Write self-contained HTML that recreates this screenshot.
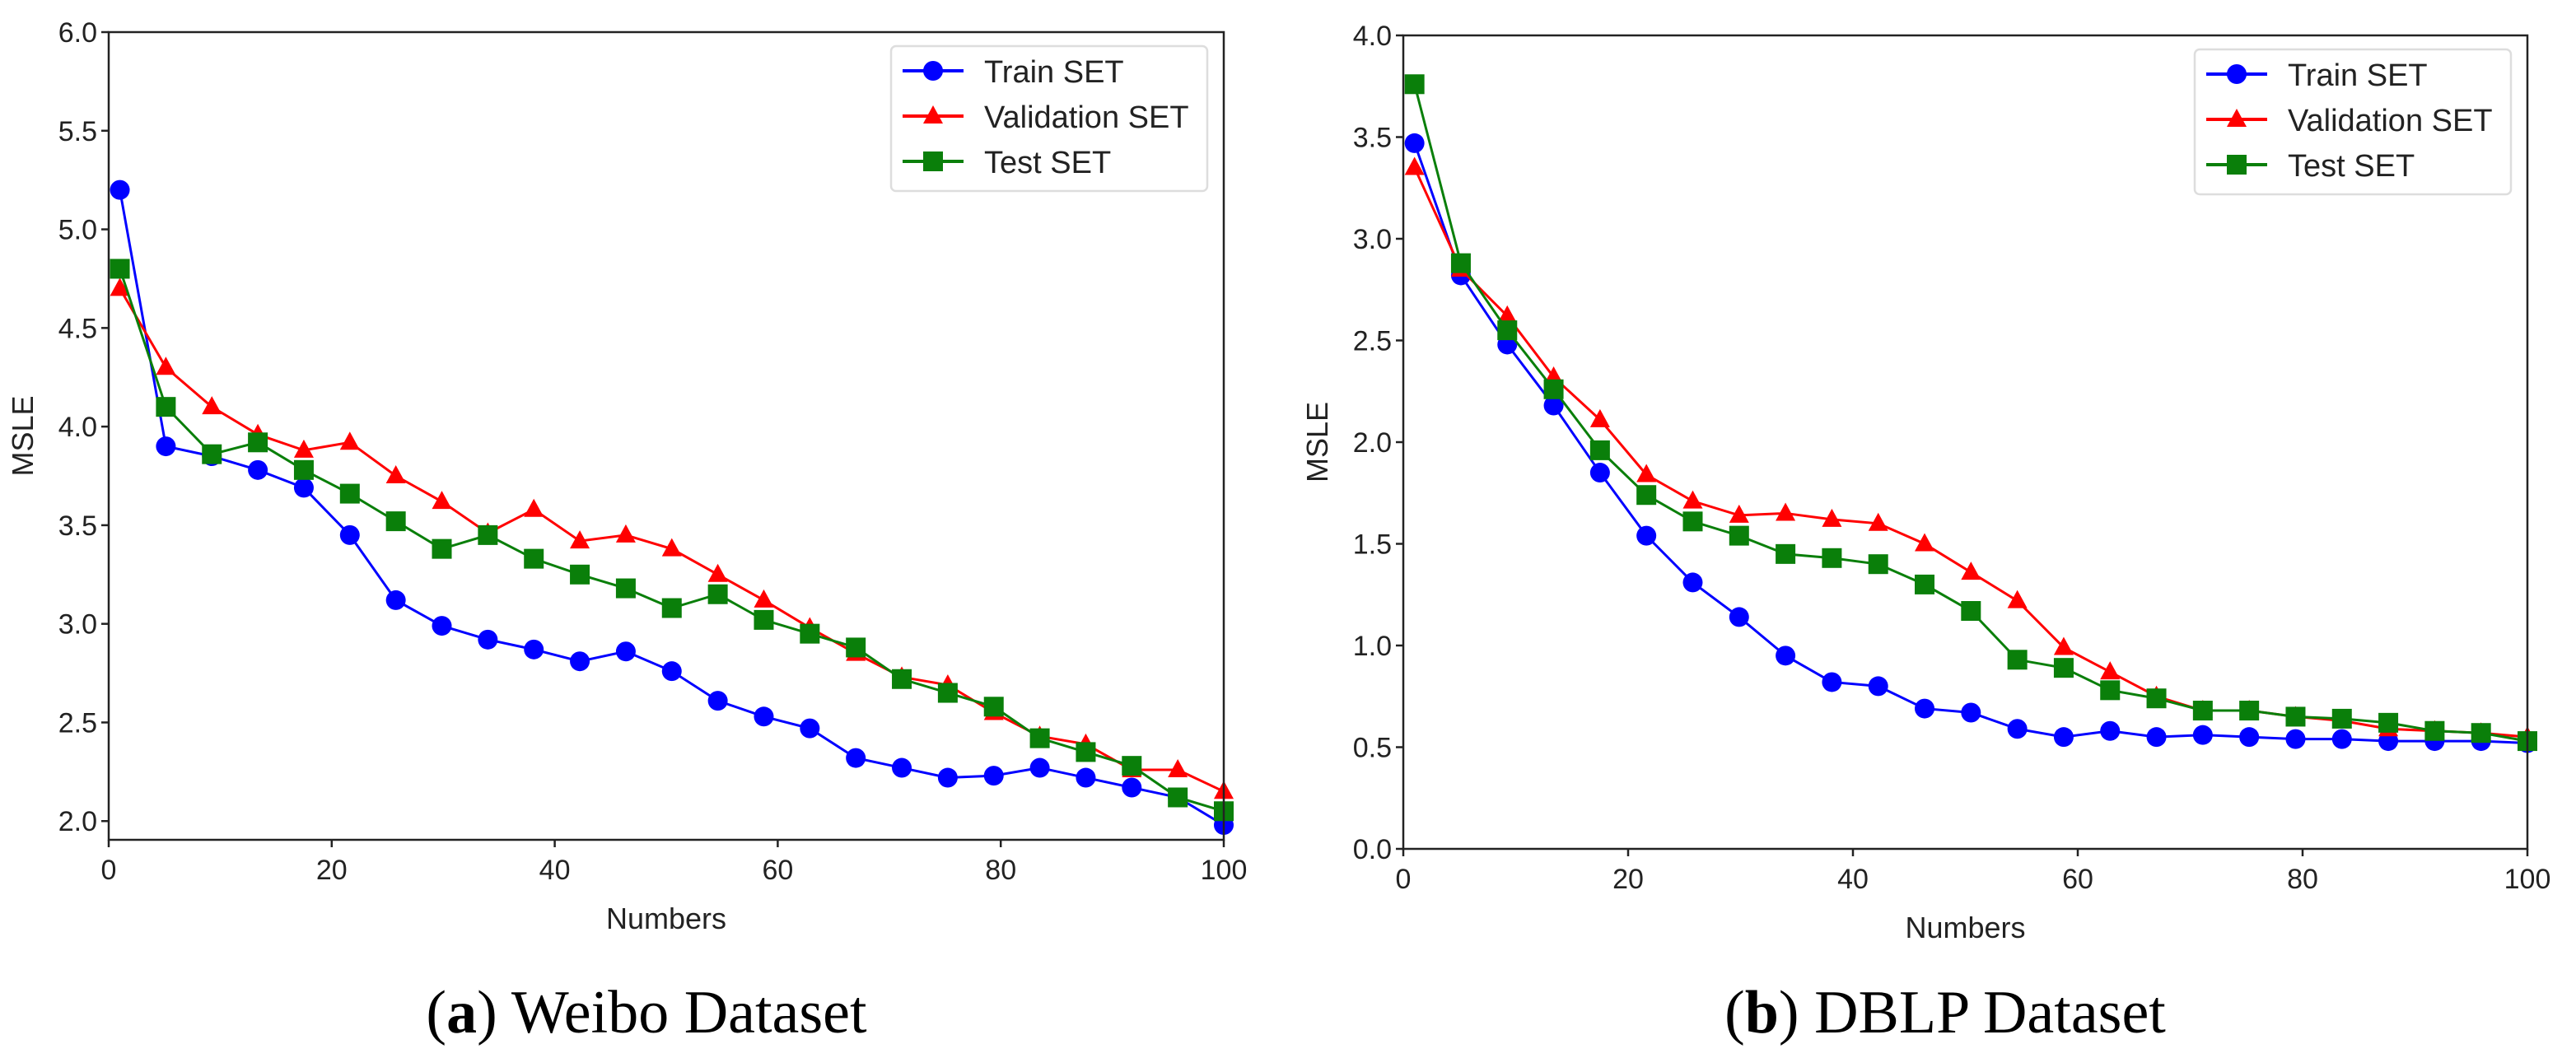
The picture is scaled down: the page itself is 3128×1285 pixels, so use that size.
<!DOCTYPE html>
<html><head><meta charset="utf-8"><style>
html,body{margin:0;padding:0;background:#fff;}
svg{display:block;}
</style></head><body>
<svg id="s" width="3128" height="1285" xmlns="http://www.w3.org/2000/svg"></svg>
<script>
const xVals = [1,5.125,9.25,13.375,17.5,21.625,25.75,29.875,34,38.125,42.25,46.375,50.5,54.625,58.75,62.875,67,71.125,75.25,79.375,83.5,87.625,91.75,95.875,100];
const weiboTrain = [5.2,3.9,3.85,3.78,3.69,3.45,3.12,2.99,2.92,2.87,2.81,2.86,2.76,2.61,2.53,2.47,2.32,2.27,2.22,2.23,2.27,2.22,2.17,2.12,1.98];
const weiboVal = [4.7,4.3,4.1,3.96,3.88,3.92,3.75,3.62,3.46,3.58,3.42,3.45,3.38,3.25,3.12,2.98,2.85,2.73,2.69,2.55,2.43,2.39,2.26,2.26,2.15];
const weiboTest = [4.8,4.1,3.86,3.92,3.78,3.66,3.52,3.38,3.45,3.33,3.25,3.18,3.08,3.15,3.02,2.95,2.88,2.72,2.65,2.58,2.42,2.35,2.28,2.12,2.05];
const dblpTrain = [3.47,2.82,2.48,2.18,1.85,1.54,1.31,1.14,0.95,0.82,0.8,0.69,0.67,0.59,0.55,0.58,0.55,0.56,0.55,0.54,0.54,0.53,0.53,0.53,0.52];
const dblpVal = [3.35,2.85,2.62,2.32,2.11,1.84,1.71,1.64,1.65,1.62,1.6,1.5,1.36,1.22,0.99,0.87,0.75,0.68,0.68,0.65,0.63,0.59,0.58,0.57,0.55];
const dblpTest = [3.76,2.88,2.55,2.26,1.96,1.74,1.61,1.54,1.45,1.43,1.40,1.30,1.17,0.93,0.89,0.78,0.74,0.68,0.68,0.65,0.64,0.62,0.58,0.57,0.53];
const xTicks = [0,20,40,60,80,100];
const weiboYTicks = [2.0,2.5,3.0,3.5,4.0,4.5,5.0,5.5,6.0];
const dblpYTicks = [0.0,0.5,1.0,1.5,2.0,2.5,3.0,3.5,4.0];
const seriesNames = ["Train SET","Validation SET","Test SET"];

const NS="http://www.w3.org/2000/svg";
const svg=document.getElementById('s');
function mk(tag,attrs,parent){const e=document.createElementNS(NS,tag);for(const k in attrs)e.setAttribute(k,attrs[k]);(parent||svg).appendChild(e);return e;}

function marker(g,type,x,y,color){
  let m;
  if(type==='circle') m=mk('circle',{cx:x,cy:y,r:12,fill:color},g);
  else if(type==='tri') m=mk('polygon',{points:`${x},${y-13} ${x-12},${y+9} ${x+12},${y+9}`,fill:color},g);
  else m=mk('rect',{x:x-12,y:y-12,width:24,height:24,fill:color},g);
  return m;
}

function panel(id,L,R,T,B,ymin,ymax,yTicks,series,caption,capX){
  const g=mk('g',{});
  
  
  const xs=v=>L+(v-0)/(100-0)*(R-L);
  const ys=v=>B-(v-ymin)/(ymax-ymin)*(B-T);
  const colors=['#0000ff','#ff0000','#0a7f0a'];
  const types=['circle','tri','square'];
  series.forEach((arr,si)=>{
    const sg=mk('g',{},g);
    
    
    const pts=arr.map((v,i)=>xs(xVals[i])+','+ys(v)).join(' ');
    mk('polyline',{points:pts,fill:'none',stroke:colors[si],'stroke-width':3},sg);
    arr.forEach((v,i)=>{const m=marker(sg,types[si],xs(xVals[i]),ys(v),colors[si]);
      
      });
  });
  mk('rect',{x:L,y:T,width:R-L,height:B-T,fill:'none',stroke:'#222','stroke-width':2.5},g);
  const ft='font-family:"Liberation Sans",sans-serif;fill:#222';
  xTicks.forEach(t=>{const x=xs(t);mk('line',{x1:x,x2:x,y1:B,y2:B+9,stroke:'#222','stroke-width':2.5},g);
    const tx=mk('text',{x:x,y:B+48,'text-anchor':'middle',style:ft+';font-size:34px'},g);tx.textContent=t;
    });
  yTicks.forEach(t=>{const y=ys(t);mk('line',{x1:L-9,x2:L,y1:y,y2:y,stroke:'#222','stroke-width':2.5},g);
    const tx=mk('text',{x:L-14,y:y+12,'text-anchor':'end',style:ft+';font-size:34px'},g);tx.textContent=t.toFixed(1);
    });
  const xl=mk('text',{x:(L+R)/2,y:B+108,'text-anchor':'middle',style:ft+';font-size:36px'},g);xl.textContent='Numbers';
  
  const yl=mk('text',{x:0,y:0,'text-anchor':'middle',transform:`translate(${L-92},${(T+B)/2}) rotate(-90)`,style:ft+';font-size:36px'},g);yl.textContent='MSLE';
  
  // legend
  const lg=mk('g',{},g);
  
  
  const lw=384,lx=R-20-lw,ly=T+17;
  mk('rect',{x:lx,y:ly,width:lw,height:176,rx:6,fill:'#fff',stroke:'#ddd','stroke-width':2.5},lg);
  seriesNames.forEach((n,i)=>{const y=ly+30+i*55;
    mk('line',{x1:lx+14,x2:lx+88,y1:y,y2:y,stroke:colors[i],'stroke-width':4},lg);
    marker(lg,types[i],lx+51,y,colors[i]);
    const t=mk('text',{x:lx+113,y:y+14,style:ft+';font-size:38px'},lg);t.textContent=n;
    });
  const c=mk('text',{x:capX,y:1254,'text-anchor':'middle',style:'font-family:"Liberation Serif",serif;font-size:74px;fill:#000'},g);
  c.innerHTML=caption;
  
}
panel('weibo',132,1486,39,1020,1.905,6.0,weiboYTicks,[weiboTrain,weiboVal,weiboTest],'(<tspan font-weight="bold">a</tspan>) Weibo Dataset',785);
panel('dblp',1704,3069,43,1031,0,4.0,dblpYTicks,[dblpTrain,dblpVal,dblpTest],'(<tspan font-weight="bold">b</tspan>) DBLP Dataset',2362);
</script>
</body></html>
